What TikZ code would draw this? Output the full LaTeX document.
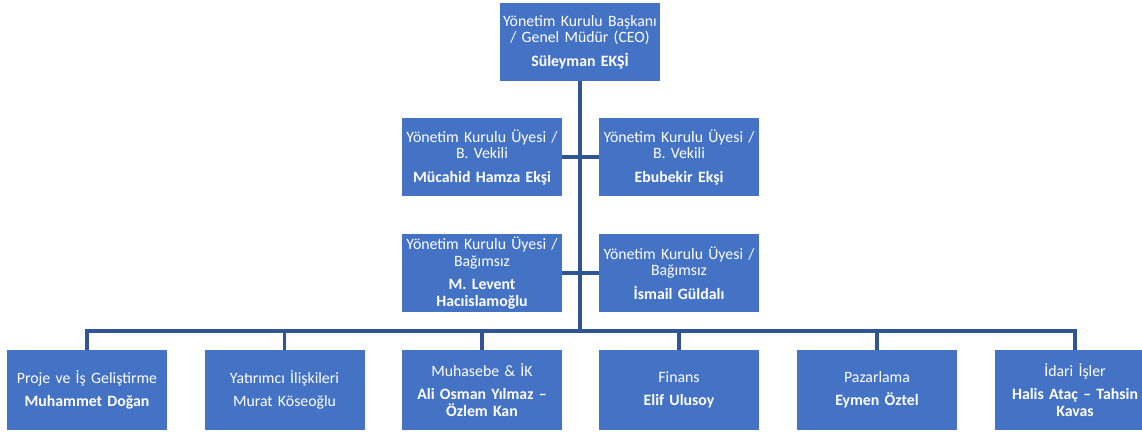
\documentclass[tikz,border=0pt]{standalone}
\usepackage{fontspec}
\setmainfont{Carlito}
\hyphenpenalty=10000
\definecolor{kutumavi}{RGB}{68,114,196}
\definecolor{hatmavi}{RGB}{47,85,151}
\newcommand{\adsoyad}{\\[7pt]\bfseries}
\tikzset{
  kutu/.style={fill=kutumavi, text=white, minimum width=160pt, minimum height=78pt,
    text width=160pt, align=center, inner sep=0pt,
    font=\fontsize{15.8}{16.5}\selectfont},
  altkutu/.style={kutu, minimum height=80pt},
  hat/.style={draw=hatmavi, line width=3.2pt}
}
\begin{document}
\begin{tikzpicture}[x=1pt,y=-1pt]
\useasboundingbox (0,0) rectangle (1142,431);
% yonetim kurulu
\node[kutu] (ceo) at (580,42) {Yönetim Kurulu Başkanı\\/ Genel Müdür (CEO)\adsoyad Süleyman EKŞİ};
\node[kutu] (U1) at (482,157) {Yönetim Kurulu Üyesi /\\B. Vekili\adsoyad Mücahid Hamza Ekşi};
\node[kutu] (U2) at (679,157) {Yönetim Kurulu Üyesi /\\B. Vekili\adsoyad Ebubekir Ekşi};
\node[kutu] (U3) at (482,273) {Yönetim Kurulu Üyesi /\\Bağımsız\adsoyad M. Levent\\Hacıislamoğlu};
\node[kutu] (U4) at (679,273) {Yönetim Kurulu Üyesi /\\Bağımsız\adsoyad İsmail Güldalı};
% birimler
\node[altkutu] (D1) at (87,390) {Proje ve İş Geliştirme\adsoyad Muhammet Doğan};
\node[altkutu] (D2) at (284.5,390) {Yatırımcı İlişkileri\\[7pt]Murat Köseoğlu};
\node[altkutu] (D3) at (482,390) {Muhasebe \& İK\adsoyad Ali Osman Yılmaz –\\Özlem Kan};
\node[altkutu] (D4) at (679,390) {Finans\adsoyad Elif Ulusoy};
\node[altkutu] (D5) at (877,390) {Pazarlama\adsoyad Eymen Öztel};
\node[altkutu] (D6) at (1075,390) {İdari İşler\adsoyad Halis Ataç – Tahsin\\Kavas};
\coordinate (bus) at (580,331);
\draw[hat] (ceo) -- (bus);
\draw[hat] (U1) -- (U2);
\draw[hat] (U3) -- (U4);
\foreach \d in {D1,D2,D3,D4,D5,D6}
  \draw[hat] (bus) -| (\d.north);
\end{tikzpicture}
\end{document}
